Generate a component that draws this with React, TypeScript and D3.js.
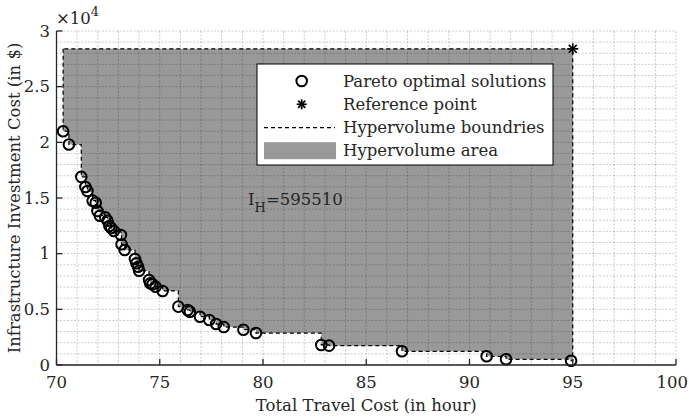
import React from "react";
import * as d3 from "d3";

// Pareto-optimal solutions: total travel cost (hours) vs. infrastructure investment cost ($)
const travelCost = [
  70.32, 70.6, 71.2, 71.4, 71.5, 71.75, 71.9, 71.98, 72.1, 72.36, 72.47, 72.56, 72.65, 72.78,
  73.12, 73.15, 73.3, 73.8, 73.87, 73.95, 74.0, 74.48, 74.54, 74.65, 74.8, 75.14, 75.9, 76.35,
  76.46, 76.95, 77.4, 77.73, 78.1, 79.05, 79.66, 82.82, 83.2, 86.73, 90.83, 91.77, 94.92,
];
const investCost = [
  21000, 19800, 16900, 15990, 15630, 14760, 14580, 13830, 13410, 13260, 12960, 12490, 12300, 12040,
  11680, 10840, 10330, 9520, 9135, 8830, 8470, 7630, 7330, 7250, 7030, 6650, 5240, 4940,
  4790, 4340, 4040, 3680, 3410, 3170, 2870, 1800, 1740, 1230, 780, 510, 380,
];
const referencePoint = { x: 95.0, y: 28400 };
const hypervolume = "595510";

const xTicks = [70, 75, 80, 85, 90, 95, 100];
const yTicks = [0, 5000, 10000, 15000, 20000, 25000, 30000];
const yTickLabels = ["0", "0.5", "1", "1.5", "2", "2.5", "3"];
const legendLabels = [
  "Pareto optimal solutions",
  "Reference point",
  "Hypervolume boundries",
  "Hypervolume area",
];

const W = 689;
const H = 418;
const FONT = "'DejaVu Serif', serif";
const AXIS = "#262626";
const FS = 16.5;

export default function App() {
  const x = d3.scaleLinear().domain([70, 100]).range([56.5, 676]);
  const y = d3.scaleLinear().domain([0, 30000]).range([365, 31]);

  const pts = travelCost.map((t, i) => ({ x: t, y: investCost[i] }));

  // Staircase boundary of the dominated region, closed at the reference point
  const stair: [number, number][] = [[pts[0].x, referencePoint.y], [pts[0].x, pts[0].y]];
  for (let i = 1; i < pts.length; i++) {
    stair.push([pts[i].x, pts[i - 1].y]);
    stair.push([pts[i].x, pts[i].y]);
  }
  stair.push([referencePoint.x, pts[pts.length - 1].y]);
  stair.push([referencePoint.x, referencePoint.y]);
  const stairPx = stair.map(([a, b]) => [x(a), y(b)] as [number, number]);
  const areaPath = d3.line()(stairPx) + "Z";
  const boundaryPath = d3.line()([...stairPx, stairPx[0]]);

  const minorX = d3.range(70, 100.001, 1);
  const minorY = d3.range(0, 30001, 1000);

  const star = (cx: number, cy: number, r: number) => (
    <g stroke="#000" strokeWidth={1.7}>
      <line x1={cx - r} y1={cy} x2={cx + r} y2={cy} />
      <line x1={cx} y1={cy - r} x2={cx} y2={cy + r} />
      <line x1={cx - r * 0.72} y1={cy - r * 0.72} x2={cx + r * 0.72} y2={cy + r * 0.72} />
      <line x1={cx - r * 0.72} y1={cy + r * 0.72} x2={cx + r * 0.72} y2={cy - r * 0.72} />
    </g>
  );

  const lg = { x: 257, y: 64, w: 296, h: 101 };
  const rowY = [81, 104.3, 127.7, 150.7];

  return (
    <svg width={W} height={H} style={{ position: "absolute", left: 0, top: 0, background: "#fff" }}
      fontFamily={FONT}>
      {/* dominated area */}
      <path d={areaPath} fill="#999999" stroke="none" />

      {/* grid */}
      <g stroke="#000" strokeOpacity={0.2} strokeWidth={1} strokeDasharray="2 1.5">
        {minorX.map((v) => (
          <line key={"gx" + v} x1={x(v)} x2={x(v)} y1={y(30000)} y2={y(0)} />
        ))}
        {minorY.map((v) => (
          <line key={"gy" + v} x1={x(70)} x2={x(100)} y1={y(v)} y2={y(v)} />
        ))}
      </g>

      {/* boundary */}
      <path d={boundaryPath} fill="none" stroke="#000" strokeWidth={1.2} strokeDasharray="4 3" />

      {/* solutions */}
      {pts.map((p, i) => (
        <circle key={i} cx={x(p.x)} cy={y(p.y)} r={5.3} fill="none" stroke="#000" strokeWidth={2} />
      ))}
      {star(x(referencePoint.x), y(referencePoint.y), 5.5)}

      {/* axes */}
      <g stroke={AXIS} strokeWidth={1.3}>
        <line x1={x(70)} x2={x(100)} y1={y(0)} y2={y(0)} />
        <line x1={x(70)} x2={x(70)} y1={y(0)} y2={y(30000)} />
        {xTicks.map((t) => (
          <line key={"tx" + t} x1={x(t)} x2={x(t)} y1={y(0)} y2={y(0) - 6} />
        ))}
        {yTicks.map((t) => (
          <line key={"ty" + t} x1={x(70)} x2={x(70) + 6} y1={y(t)} y2={y(t)} />
        ))}
      </g>
      <g fill={AXIS} fontSize={FS}>
        {xTicks.map((t, i) => {
          const last = i === xTicks.length - 1;
          return (
            <text key={"lx" + t} x={last ? W - 1 : x(t)} y={388} textAnchor={last ? "end" : "middle"}>
              {t}
            </text>
          );
        })}
        {yTicks.map((t, i) => (
          <text key={"ly" + t} x={50} y={y(t) + 5.5} textAnchor="end">{yTickLabels[i]}</text>
        ))}
        <text x={56} y={24}>
          ×10<tspan dy={-8} fontSize={13}>4</tspan>
        </text>
        <text x={(x(70) + x(100)) / 2} y={411} textAnchor="middle">Total Travel Cost (in hour)</text>
        <text transform={`translate(20,${(y(0) + y(30000)) / 2}) rotate(-90)`} textAnchor="middle">
          Infrastructure Investment Cost (in $)
        </text>
      </g>

      {/* hypervolume value */}
      <text x={248} y={205} fill={AXIS} fontSize={FS}>
        I<tspan dy={7} fontSize={13}>H</tspan><tspan dy={-7}>={hypervolume}</tspan>
      </text>

      {/* legend */}
      <rect x={lg.x} y={lg.y} width={lg.w} height={lg.h} fill="#fff" stroke="#000" strokeWidth={1} />
      <circle cx={301.7} cy={rowY[0]} r={5.3} fill="none" stroke="#000" strokeWidth={2} />
      {star(301.7, rowY[1], 5)}
      <line x1={264} x2={335} y1={rowY[2]} y2={rowY[2]} stroke="#000" strokeWidth={1.2} strokeDasharray="4 3" />
      <rect x={264} y={rowY[3] - 8.5} width={72} height={17} fill="#999999" />
      <g fill={AXIS} fontSize={FS}>
        {legendLabels.map((l, i) => (
          <text key={l} x={343} y={rowY[i] + 5.5}>{l}</text>
        ))}
      </g>
    </svg>
  );
}
